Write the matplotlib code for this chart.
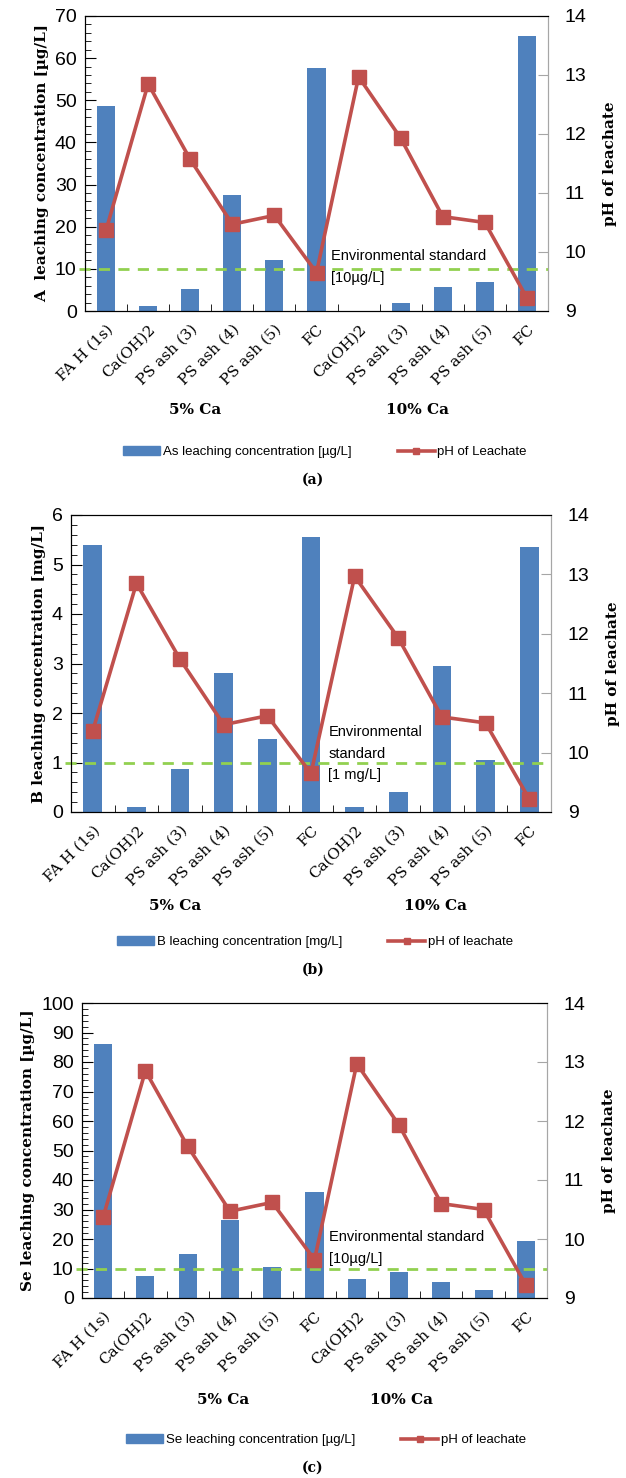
import numpy as np
import matplotlib.pyplot as plt
from matplotlib.ticker import MultipleLocator
from matplotlib.lines import Line2D
from matplotlib.patches import Patch

categories = ["FA H (1s)", "Ca(OH)2", "PS ash (3)", "PS ash (4)", "PS ash (5)", "FC",
              "Ca(OH)2", "PS ash (3)", "PS ash (4)", "PS ash (5)", "FC"]
groups = ["5% Ca", "10% Ca"]

ph_a = [10.37, 12.85, 11.57, 10.47, 10.62, 9.65, 12.97, 11.93, 10.60, 10.50, 9.22]
ph_b = [10.37, 12.85, 11.57, 10.47, 10.62, 9.65, 12.97, 11.93, 10.60, 10.50, 9.22]
ph_c = [10.37, 12.85, 11.57, 10.47, 10.62, 9.65, 12.97, 11.93, 10.60, 10.50, 9.22]

as_conc = [48.7, 1.2, 5.2, 27.6, 12.2, 57.7, 0.0, 1.8, 5.8, 6.8, 65.3]
b_conc = [5.40, 0.10, 0.86, 2.80, 1.47, 5.55, 0.10, 0.40, 2.95, 1.05, 5.35]
se_conc = [86.0, 7.3, 15.0, 26.3, 10.5, 36.0, 6.3, 8.7, 5.4, 2.6, 19.2]

standards = [10, 1, 10]

BLUE = "#4F81BD"
RED = "#C0504D"
GREEN = "#92D050"
GREY = "#A6A6A6"
SERIF = "DejaVu Serif"
SANS = ["Liberation Sans Narrow", "Liberation Sans", "DejaVu Sans"]

W, H = 626, 1478
fig = plt.figure(figsize=(W / 100, H / 100), dpi=100)


def px_axes(left, top, right, bottom):
    return fig.add_axes([left / W, 1 - bottom / H, (right - left) / W, (bottom - top) / H])


def panel(box, conc, ph, ymax, major, minor, ylabel, std, std_text, std_pos,
          legend_label, ph_label, leg_x, leg_y, group_x, group_y, tag, tag_y):
    ax = px_axes(*box)
    x = np.arange(len(categories))
    ax.bar(x, conc, width=0.43, color=BLUE, zorder=2)
    ax.set_xlim(-0.5, len(categories) - 0.5)
    ax.set_ylim(0, ymax)
    ax.yaxis.set_major_locator(MultipleLocator(major))
    ax.yaxis.set_minor_locator(MultipleLocator(minor))
    ax.tick_params(axis="y", which="major", direction="in", length=8, labelsize=14, pad=6)
    ax.tick_params(axis="y", which="minor", direction="in", length=4)
    for t in ax.get_yticklabels():
        t.set_family(SANS)
    ax.set_xticks(np.arange(len(categories) + 1) - 0.5, minor=True)
    ax.set_xticks(x)
    ax.set_xticklabels(categories, rotation=45, ha="right", rotation_mode="anchor",
                       family=SERIF, fontsize=11)
    ax.tick_params(axis="x", which="major", length=0, pad=8)
    ax.tick_params(axis="x", which="minor", direction="in", length=5)
    ax.set_ylabel(ylabel, family=SERIF, fontweight="bold", fontsize=11, labelpad=4)
    ax.spines["right"].set_color(GREY)

    # environmental limit, drawn under the pH line
    ax.axhline(std, xmin=-0.012, xmax=1.0, color=GREEN, lw=2, ls=(0, (4, 3)),
               zorder=4, clip_on=False)
    ax.text(std_pos[0], std_pos[1], std_text, family=SANS, fontsize=10.5,
            va="bottom", ha="left", linespacing=1.7, zorder=5)

    ax2 = ax.twinx()
    ax2.plot(x, ph, color=RED, lw=2.6, marker="s", markersize=9.5, zorder=3)
    ax2.set_ylim(9, 14)
    ax2.yaxis.set_major_locator(MultipleLocator(1))
    ax2.tick_params(axis="y", direction="in", length=7, labelsize=14, pad=12, color=GREY)
    for t in ax2.get_yticklabels():
        t.set_family(SANS)
    ax2.set_ylabel("pH of leachate", family=SERIF, fontweight="bold", fontsize=11,
                   labelpad=12)
    ax2.spines["right"].set_color(GREY)

    for gx, name in zip(group_x, groups):
        fig.text(gx / W, 1 - group_y / H, name, family=SERIF, fontweight="bold",
                 fontsize=11, ha="center", va="center")

    handles = [Patch(color=BLUE, label=legend_label),
               Line2D([], [], color=RED, lw=2.6, marker="s", markersize=5, label=ph_label)]
    fig.legend(handles=handles, loc="center", bbox_to_anchor=(leg_x / W, 1 - leg_y / H),
               ncol=2, frameon=False, prop={"family": SANS, "size": 9.5},
               handlelength=2.8, handletextpad=0.2, columnspacing=3.5)
    fig.text(0.5, 1 - tag_y / H, tag, family=SERIF, fontweight="bold", fontsize=10,
             ha="center", va="center")


panel((85, 16, 548, 311), as_conc, ph_a, 70, 10, 2,
      "A  leaching concentration [µg/L]", standards[0],
      "Environmental standard\n[10µg/L]", (5.35, 6.2),
      "As leaching concentration [µg/L]", "pH of Leachate",
      325, 452, (195, 418), 410, "(a)", 480)

panel((71, 515, 551, 812), b_conc, ph_b, 6, 1, 0.2,
      "B leaching concentration [mg/L]", standards[1],
      "Environmental\nstandard\n[1 mg/L]", (5.4, 0.6),
      "B leaching concentration [mg/L]", "pH of leachate",
      315, 942, (175, 435), 906, "(b)", 970)

panel((82, 1003, 547, 1298), se_conc, ph_c, 100, 10, 2,
      "Se leaching concentration [µg/L]", standards[2],
      "Environmental standard\n[10µg/L]", (5.35, 10.8),
      "Se leaching concentration [µg/L]", "pH of leachate",
      326, 1440, (223, 402), 1400, "(c)", 1468)

fig.savefig("out.png", dpi=100)
